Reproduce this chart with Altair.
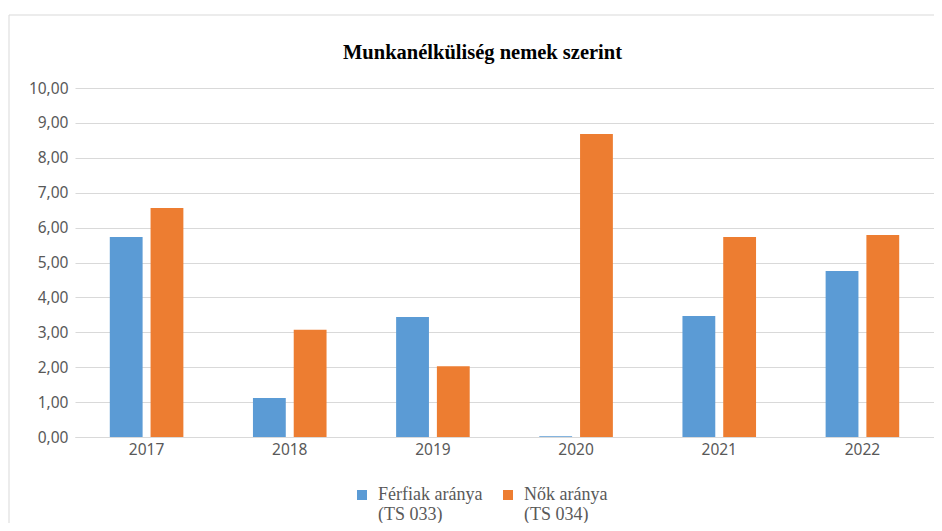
import altair as alt
import pandas as pd

years = ["2017", "2018", "2019", "2020", "2021", "2022"]
series = ["Férfiak aránya|(TS 033)", "Nők aránya|(TS 034)"]
ferfiak = [5.73, 1.12, 3.44, 0.02, 3.47, 4.76]
nok = [6.56, 3.07, 2.03, 8.68, 5.73, 5.79]
colors = ["#5B9BD5", "#ED7D31"]

rows = []
for i, y in enumerate(years):
    rows.append({"ev": y, "sorozat": series[0], "ertek": ferfiak[i]})
    rows.append({"ev": y, "sorozat": series[1], "ertek": nok[i]})
df = pd.DataFrame(rows)

W, H = 859, 349

frame = alt.Chart(pd.DataFrame({"a": [0]})).mark_rect(
    fill=None, stroke="#D9D9D9", strokeWidth=1
).encode(
    x=alt.value(-66), x2=alt.value(W + 40),
    y=alt.value(-73), y2=alt.value(H + 200)
)

bars = alt.Chart(df).mark_bar().encode(
    x=alt.X("ev:N", sort=years, title=None,
            scale=alt.Scale(paddingInner=0.486, paddingOuter=0.243),
            axis=alt.Axis(labelAngle=0, ticks=False, domainColor="#D9D9D9",
                          labelColor="#595959", labelFontSize=15.5,
                          labelFont="Noto Sans", labelPadding=5)),
    xOffset=alt.XOffset("sorozat:N", sort=series,
                        scale=alt.Scale(paddingInner=0.195, paddingOuter=0)),
    y=alt.Y("ertek:Q", title=None,
            scale=alt.Scale(domain=[0, 10], nice=False),
            axis=alt.Axis(values=list(range(0, 11)), ticks=False, domain=False,
                          gridColor="#D9D9D9", labelColor="#595959",
                          labelFontSize=15.5, labelFont="Noto Sans", labelPadding=7,
                          labelExpr="replace(format(datum.value, '.2f'), '.', ',')")),
    color=alt.Color("sorozat:N", sort=series,
                    scale=alt.Scale(domain=series, range=colors),
                    legend=alt.Legend(title=None, orient="none", direction="horizontal",
                                      legendX=278, legendY=398,
                                      symbolType="square", symbolSize=100,
                                      symbolStrokeWidth=0,
                                      labelFont="Liberation Serif", labelFontSize=18,
                                      labelColor="#595959", labelLimit=300,
                                      columnPadding=16, labelOffset=7,
                                      labelExpr="split(datum.label, '|')"))
)

chart = alt.layer(frame, bars).properties(
    width=W, height=H,
    autosize=alt.AutoSizeParams(type="none"),
    padding={"left": 67, "top": 80, "right": 0, "bottom": 86},
    title=alt.TitleParams("Munkanélküliség nemek szerint", font="Liberation Serif",
                          fontSize=20.5, fontWeight="bold", color="#000000",
                          anchor="middle", dx=-22, offset=-49)
).configure_view(stroke=None)

chart.save("out.html", embed_options={"renderer": "svg", "actions": False})
